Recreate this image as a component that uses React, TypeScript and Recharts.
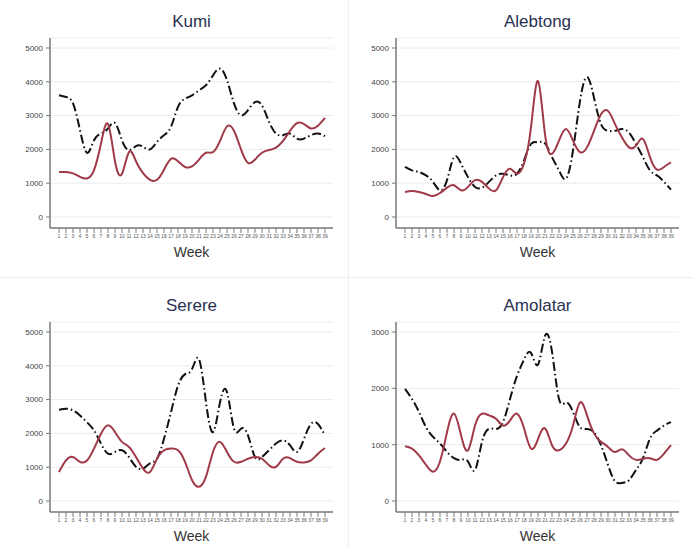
import React from "react";
import { LineChart, Line, XAxis, YAxis, CartesianGrid } from "recharts";

const weeks = Array.from({ length: 39 }, (_, i) => i + 1);
const weekTicks = weeks;

const kumiRed = [1330, 1330, 1290, 1190, 1140, 1390, 2175, 2750, 1650, 1280, 1920, 1650, 1300, 1100, 1100, 1400, 1720, 1650, 1480, 1500, 1700, 1900, 1920, 2250, 2680, 2550, 2000, 1600, 1700, 1900, 1980, 2050, 2250, 2550, 2780, 2750, 2620, 2700, 2930];
const kumiBlack = [3600, 3550, 3360, 2570, 1900, 2270, 2470, 2620, 2780, 2270, 1980, 2100, 2080, 2000, 2220, 2420, 2670, 3260, 3500, 3600, 3750, 3900, 4190, 4390, 4050, 3360, 3010, 3160, 3400, 3300, 2820, 2470, 2420, 2470, 2320, 2320, 2420, 2470, 2390];

const alebtongRed = [740, 770, 740, 680, 620, 710, 870, 940, 790, 890, 1090, 1040, 840, 790, 1180, 1430, 1280, 1580, 2650, 4020, 2450, 1870, 2260, 2600, 2260, 1920, 2060, 2550, 3040, 3140, 2750, 2350, 2060, 2110, 2310, 1770, 1400, 1480, 1620];
const alebtongBlack = [1480, 1380, 1330, 1230, 1040, 790, 1090, 1770, 1580, 1180, 890, 870, 1040, 1230, 1280, 1230, 1280, 1670, 2160, 2210, 2180, 1770, 1380, 1130, 1970, 3430, 4140, 3530, 2750, 2550, 2550, 2600, 2500, 2160, 1770, 1380, 1230, 1040, 810];

const serereRed = [860, 1200, 1300, 1160, 1200, 1550, 1990, 2240, 2040, 1750, 1600, 1300, 960, 860, 1250, 1500, 1550, 1500, 1160, 620, 420, 720, 1450, 1750, 1450, 1160, 1160, 1250, 1300, 1250, 1060, 1010, 1250, 1270, 1160, 1140, 1200, 1400, 1570];
const serereBlack = [2700, 2730, 2680, 2530, 2330, 2090, 1700, 1400, 1450, 1500, 1300, 1010, 960, 1110, 1250, 1840, 2630, 3410, 3750, 3900, 4200, 2920, 2040, 2920, 3220, 2140, 2140, 1940, 1300, 1300, 1500, 1700, 1790, 1650, 1450, 1840, 2280, 2280, 1940];

const amolatarRed = [970, 930, 810, 640, 520, 700, 1220, 1550, 1170, 900, 1340, 1550, 1520, 1460, 1340, 1430, 1550, 1290, 930, 1100, 1290, 990, 900, 1020, 1340, 1750, 1520, 1200, 1050, 960, 870, 920, 810, 730, 750, 760, 730, 840, 990];
const amolatarBlack = [1990, 1810, 1580, 1310, 1140, 1020, 870, 760, 730, 700, 550, 1050, 1280, 1280, 1400, 1810, 2220, 2510, 2630, 2420, 2930, 2650, 1810, 1750, 1580, 1310, 1280, 1220, 990, 640, 350, 320, 370, 550, 760, 1110, 1250, 1340, 1400];

const ticks5000 = [0, 1000, 2000, 3000, 4000, 5000];
const ticks3000 = [0, 1000, 2000, 3000];

const RED = "#a03a48";
const BLACK = "#111111";
const AXIS = "#7a7a7a";
const FONT = "'Liberation Sans', Arial, sans-serif";

type PanelProps = {
  title: string;
  red: number[];
  black: number[];
  yMax: number;
  yTicks: number[];
  left: number;
  top: number;
};

function Panel({ title, red, black, yMax, yTicks, left, top }: PanelProps) {
  const data = weeks.map((w, i) => ({ week: w, red: red[i], black: black[i] }));
  return (
    <div style={{ position: "absolute", left, top, width: 346, height: 270 }}>
      <div
        style={{
          position: "absolute",
          left: 50,
          width: 283,
          top: 11,
          textAlign: "center",
          fontFamily: FONT,
          fontSize: 17,
          color: "#2a3152",
          lineHeight: "22px",
        }}
      >
        {title}
      </div>
      <LineChart
        width={346}
        height={270}
        data={data}
        margin={{ top: 38, right: 13, left: 0, bottom: 12 }}
        style={{ fontFamily: FONT }}
      >
        <CartesianGrid vertical={false} stroke="#ececec" strokeWidth={1} />
        <XAxis
          dataKey="week"
          type="number"
          domain={[1, 39]}
          ticks={weekTicks}
          interval={0}
          padding={{ left: 9, right: 8 }}
          height={30}
          tickSize={5}
          tickMargin={1}
          stroke={AXIS}
          axisLine={{ stroke: AXIS, strokeWidth: 1.5 }}
          tickLine={{ stroke: AXIS, strokeWidth: 1 }}
          tick={{ fontSize: 5, fill: "#555", stroke: "none" }}
        />
        <YAxis
          type="number"
          domain={[0, yMax]}
          ticks={yTicks}
          interval={0}
          padding={{ top: 10, bottom: 11 }}
          width={50}
          tickSize={4}
          tickMargin={3}
          stroke={AXIS}
          axisLine={{ stroke: AXIS, strokeWidth: 1.5 }}
          tickLine={{ stroke: AXIS, strokeWidth: 1 }}
          tick={{ fontSize: 8, fill: "#444", stroke: "none" }}
        />
        <Line
          type="natural"
          dataKey="black"
          stroke={BLACK}
          strokeWidth={2}
          strokeDasharray="9 3 1.5 3"
          dot={false}
          isAnimationActive={false}
        />
        <Line
          type="natural"
          dataKey="red"
          stroke={RED}
          strokeWidth={2}
          dot={false}
          isAnimationActive={false}
        />
      </LineChart>
      <div
        style={{
          position: "absolute",
          left: 50,
          width: 283,
          top: 243,
          textAlign: "center",
          fontFamily: FONT,
          fontSize: 14,
          color: "#333",
          lineHeight: "18px",
        }}
      >
        Week
      </div>
    </div>
  );
}

export default function App() {
  return (
    <div style={{ position: "absolute", left: 0, top: 0, width: 693, height: 549, background: "#fff", overflow: "hidden" }}>
      <div style={{ position: "absolute", left: 348, top: 0, width: 1, height: 549, background: "#eeeeee" }} />
      <div style={{ position: "absolute", left: 0, top: 277, width: 693, height: 1, background: "#eeeeee" }} />
      <Panel title="Kumi" red={kumiRed} black={kumiBlack} yMax={5000} yTicks={ticks5000} left={0} top={0} />
      <Panel title="Alebtong" red={alebtongRed} black={alebtongBlack} yMax={5000} yTicks={ticks5000} left={346} top={0} />
      <Panel title="Serere" red={serereRed} black={serereBlack} yMax={5000} yTicks={ticks5000} left={0} top={284} />
      <Panel title="Amolatar" red={amolatarRed} black={amolatarBlack} yMax={3000} yTicks={ticks3000} left={346} top={284} />
    </div>
  );
}
